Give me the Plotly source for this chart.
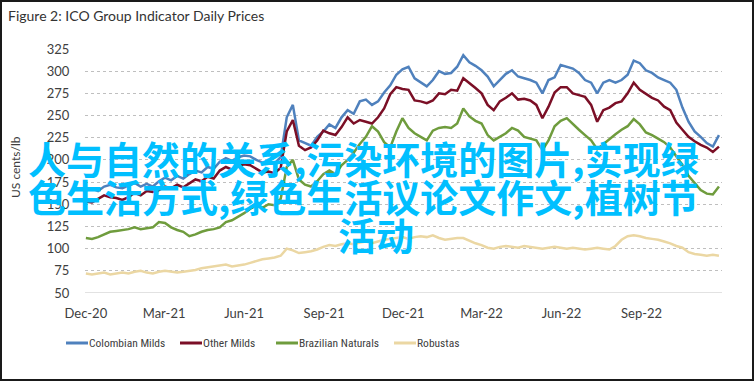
import pandas as pd
import plotly.graph_objects as go

# ---- data (weekly readings, Dec 2020 - Nov 2022) ----
dates = pd.date_range("2020-12-01", periods=105, freq="7D")

colombian_milds = [
    166, 168, 165, 170, 172, 169, 168, 171, 174, 170,
    173, 170, 176, 180, 177, 182, 179, 184, 188, 186,
    192, 190, 198, 202, 199, 203, 205, 204, 200, 197,
    198, 196, 203, 248, 262, 222, 219, 216, 226, 232,
    240, 236, 248, 256, 252, 266, 268, 262, 266, 276,
    284, 296, 302, 305, 292, 287, 283, 290, 300, 297,
    298, 305, 318, 310, 306, 301, 294, 283, 290, 297,
    301, 294, 292, 290, 287, 275, 290, 293, 307, 305,
    303, 298, 290, 287, 275, 287, 290, 287, 290, 296,
    312, 309, 301, 298, 293, 290, 287, 279, 259, 243,
    232, 226, 219, 215, 228,
]
other_milds = [
    153, 152, 156, 160, 158, 157, 155, 158, 163, 160,
    165, 164, 166, 170, 168, 172, 169, 174, 178, 176,
    181, 179, 188, 192, 189, 193, 195, 194, 190, 186,
    187, 185, 191, 232, 245, 216, 211, 214, 222, 233,
    230, 228, 237, 248, 241, 245, 243, 241, 248, 258,
    274, 282, 280, 279, 267, 266, 264, 267, 275, 274,
    279, 278, 292, 287, 281, 275, 262, 256, 266, 270,
    275, 268, 269, 267, 262, 247, 260, 276, 282, 282,
    275, 273, 271, 262, 243, 256, 259, 264, 266, 275,
    287, 279, 274, 270, 267, 260, 256, 242, 234, 226,
    221, 217, 214, 209, 215,
]
brazilian_naturals = [
    112, 111, 113, 116, 119, 120, 121, 122, 124, 122,
    123, 124, 130, 129, 124, 121, 119, 114, 116, 119,
    121, 122, 124, 130, 132, 136, 140, 145, 148, 146,
    150, 149, 156, 192, 200, 178, 172, 170, 176, 184,
    188, 184, 194, 200, 208, 218, 226, 238, 232, 220,
    214, 232, 247, 236, 230, 226, 222, 233, 236, 237,
    236, 241, 258, 249, 244, 241, 228, 222, 226, 230,
    236, 233, 226, 224, 222, 211, 222, 238, 244, 247,
    240, 234, 228, 222, 212, 218, 224, 229, 234, 238,
    246, 240, 231, 228, 224, 220, 214, 204, 194, 182,
    174, 166, 162, 161, 170,
]
robustas = [
    72, 71, 72, 73, 71, 72, 73, 72, 74, 75,
    73, 72, 74, 75, 74, 73, 74, 75, 76, 78,
    79, 80, 81, 82, 80, 81, 82, 84, 86, 88,
    89, 90, 92, 100, 98, 95, 96, 97, 99, 102,
    104, 103, 105, 106, 105, 107, 108, 106, 108, 110,
    111, 112, 113, 111, 113, 114, 113, 115, 112, 110,
    111, 112, 112, 109, 106, 104, 101, 100, 102, 103,
    102, 101, 103, 102, 101, 100, 101, 102, 101, 100,
    101, 100, 99, 100, 101, 100, 99, 103, 110, 114,
    115, 114, 112, 111, 110, 108, 106, 103, 101, 96,
    94, 93, 92, 93, 92,
]

series_names = ["Colombian Milds", "Other Milds", "Brazilian Naturals", "Robustas"]
series_values = [colombian_milds, other_milds, brazilian_naturals, robustas]
series_colors = ["#4F81BD", "#7B0F26", "#6F9C3D", "#EBD7A3"]

y_ticks = [50, 75, 100, 125, 150, 175, 200, 225, 250, 275, 300, 325]
x_tick_dates = ["2020-12-01", "2021-03-01", "2021-06-01", "2021-09-01",
                "2021-12-01", "2022-03-01", "2022-06-01", "2022-09-01"]
x_tick_labels = ["Dec-20", "Mar-21", "Jun-21", "Sep-21",
                 "Dec-21", "Mar-22", "Jun-22", "Sep-22"]

title_text = "Figure 2: ICO Group Indicator Daily Prices"
y_title = "US cents/lb"
overlay_lines = ["人与自然的关系,污染环境的图片,实现绿",
                 "色生活方式,绿色生活议论文作文,植树节",
                 "活动"]

# ---- figure ----
W, H = 755, 382
L, R, T, B = 85, 33, 49, 89
pw, ph = W - L - R, H - T - B


def px_x(px):
    return (px - L) / pw


def px_y(py):
    return (H - B - py) / ph


fig = go.Figure()
for name, vals, col in zip(series_names, series_values, series_colors):
    fig.add_trace(go.Scatter(x=dates, y=vals, name=name, mode="lines",
                             line=dict(color=col, width=2.5),
                             hoverinfo="skip", showlegend=False))

tick_font = dict(family="Lato, Open Sans, sans-serif", size=13, color="#404040")

fig.update_layout(
    width=W, height=H,
    margin=dict(l=L, r=R, t=T, b=B, autoexpand=False),
    paper_bgcolor="white", plot_bgcolor="white",
    showlegend=False,
    xaxis=dict(type="date", range=["2020-11-30", "2022-12-02 12:00"], automargin=False,
               tickmode="array", tickvals=x_tick_dates, ticktext=x_tick_labels,
               showgrid=False, zeroline=False, showline=False,
               ticks="outside", ticklen=8, tickcolor="rgba(0,0,0,0)",
               tickfont=tick_font),
    yaxis=dict(range=[50, 325], tickmode="array", tickvals=y_ticks, automargin=False,
               showgrid=True, gridcolor="#BFBFBF", griddash="dot", gridwidth=1,
               zeroline=False, showline=False,
               ticks="outside", ticklen=12, tickcolor="rgba(0,0,0,0)",
               tickfont=tick_font),
)

# baseline axis at 50
fig.add_shape(type="line", xref="paper", yref="y", x0=0, x1=1, y0=50, y1=50,
              line=dict(color="#D9D9D9", width=1.5))

# outer border
fig.add_shape(type="rect", xref="paper", yref="paper",
              x0=px_x(1), x1=px_x(753), y0=px_y(380), y1=px_y(1),
              line=dict(color="#1A1A1A", width=2))

# title
fig.add_annotation(text=title_text, xref="paper", yref="paper", x=px_x(7), y=px_y(16),
                   showarrow=False, xanchor="left", yanchor="middle", borderpad=0,
                   font=dict(family="Lato, Open Sans, sans-serif", size=14, color="#333333"))

# y-axis title
fig.add_annotation(text=y_title, xref="paper", yref="paper", x=px_x(15), y=px_y(167),
                   textangle=-90, showarrow=False, xanchor="center", yanchor="middle",
                   font=dict(family="Lato, Open Sans, sans-serif", size=12, color="#404040"))

# legend (line sample + label), laid out as in the reference
legend_starts = [66, 180, 276, 394]
legend_font = dict(family="Roboto Condensed, DejaVu Sans Condensed, sans-serif",
                   size=11.5, color="#404040")
for name, col, sx in zip(series_names, series_colors, legend_starts):
    fig.add_shape(type="line", xref="paper", yref="paper",
                  x0=px_x(sx), x1=px_x(sx + 22), y0=px_y(343), y1=px_y(343),
                  line=dict(color=col, width=3))
    fig.add_annotation(text=name, xref="paper", yref="paper", x=px_x(sx + 22), y=px_y(343),
                       showarrow=False, xanchor="left", yanchor="middle", borderpad=0,
                       font=legend_font)

# overlay caption text
overlay_pos = [(27, 157), (27, 195), (337, 233)]
for txt, (lx, cy) in zip(overlay_lines, overlay_pos):
    fig.add_annotation(text=txt, xref="paper", yref="paper", x=px_x(lx), y=px_y(cy),
                       xanchor="left", yanchor="middle", showarrow=False, borderpad=0,
                       font=dict(family="Noto Sans CJK SC", size=38, color="#00BFFF",
                                 weight="bold"))

fig.write_html("out.html", config={"displayModeBar": False},
               post_script="document.body.style.margin='0px';document.body.style.overflow='hidden';")
